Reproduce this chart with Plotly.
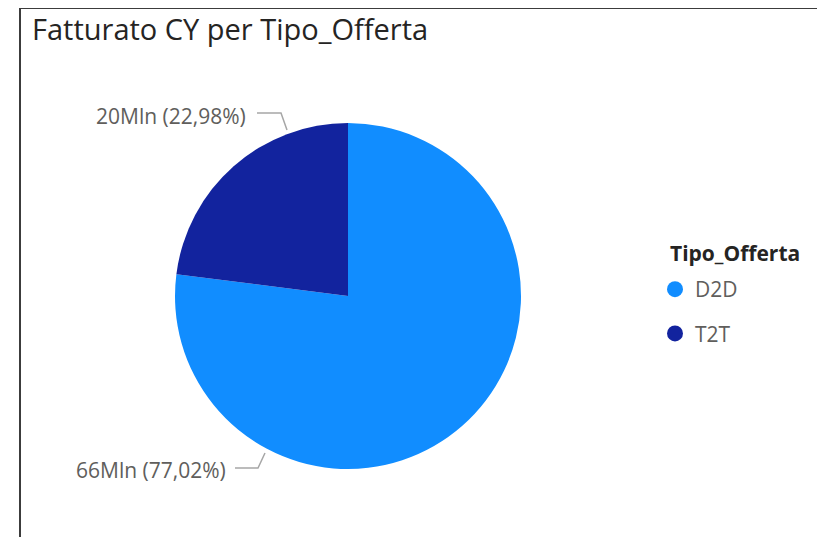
import plotly.graph_objects as go

W, H = 825, 537
OFF = 8  # page body margin in the browser
categories = ["D2D", "T2T"]
values_mln = [66.05, 19.71]
colors = ["#118DFF", "#12239E"]
title_text = "Fatturato CY per Tipo_Offerta"
legend_title = "Tipo_Offerta"

def px(x):
    return (x - OFF) / W

def py(y):
    return 1 - (y - OFF) / H

total = sum(values_mln)
def label(v):
    pct = f"{v / total * 100:.2f}".replace(".", ",")
    return f"{round(v)}Mln ({pct}%)"

fig = go.Figure()
fig.add_trace(go.Pie(
    labels=categories, values=values_mln,
    marker=dict(colors=colors, line=dict(width=0)),
    sort=False, direction="clockwise", rotation=0,
    textinfo="none", hoverinfo="label+value+percent",
    showlegend=False,
    domain=dict(x=[px(175), px(521)], y=[py(469), py(123)]),
))

for i, (c, col) in enumerate(zip(categories, colors)):
    fig.add_trace(go.Scatter(
        x=[None], y=[None], mode="markers", name=c,
        marker=dict(symbol="circle", size=16, color=col),
        legendgroup=c, showlegend=True,
    ))

gray = "#605E5C"
line_col = "#A6A6A6"
lab_font = dict(family="Open Sans", size=21, color=gray)
annotations = [
    dict(x=px(248), y=py(116), xref="paper", yref="paper", text=label(values_mln[1]),
         showarrow=False, xanchor="right", yanchor="middle", font=lab_font),
    dict(x=px(228), y=py(470), xref="paper", yref="paper", text=label(values_mln[0]),
         showarrow=False, xanchor="right", yanchor="middle", font=lab_font),
    dict(x=px(668), y=py(253), xref="paper", yref="paper", text=f"<b>{legend_title}</b>",
         showarrow=False, xanchor="left", yanchor="middle",
         font=dict(family="Open Sans", size=21, color="#252423")),
]

shapes = [
    dict(type="line", xref="paper", yref="paper", x0=px(20), x1=px(20), y0=py(8), y1=py(560),
         line=dict(color="#3c3c3c", width=2)),
    dict(type="line", xref="paper", yref="paper", x0=px(19), x1=px(840), y0=py(8), y1=py(8),
         line=dict(color="#3c3c3c", width=2)),
    dict(type="path", xref="paper", yref="paper",
         path=f"M {px(257)} {py(113)} L {px(281)} {py(113)} L {px(287)} {py(130)}",
         line=dict(color=line_col, width=1.5)),
    dict(type="path", xref="paper", yref="paper",
         path=f"M {px(235)} {py(468)} L {px(258)} {py(468)} L {px(265)} {py(453)}",
         line=dict(color=line_col, width=1.5)),
]

fig.update_layout(
    width=W, height=H,
    margin=dict(l=0, r=0, t=0, b=0),
    paper_bgcolor="white", plot_bgcolor="white",
    title=dict(text=title_text, x=px(32), xanchor="left", y=py(30), yanchor="middle",
               xref="paper", yref="paper",
               font=dict(family="Open Sans", size=29, color="#252423")),
    xaxis=dict(visible=False), yaxis=dict(visible=False),
    legend=dict(
        x=px(655), y=py(269), xanchor="left", yanchor="top",
        font=dict(family="Open Sans", size=21, color=gray),
        tracegroupgap=14, itemwidth=30, bgcolor="rgba(0,0,0,0)",
    ),
    annotations=annotations, shapes=shapes,
)

fig.write_html("out.html")
